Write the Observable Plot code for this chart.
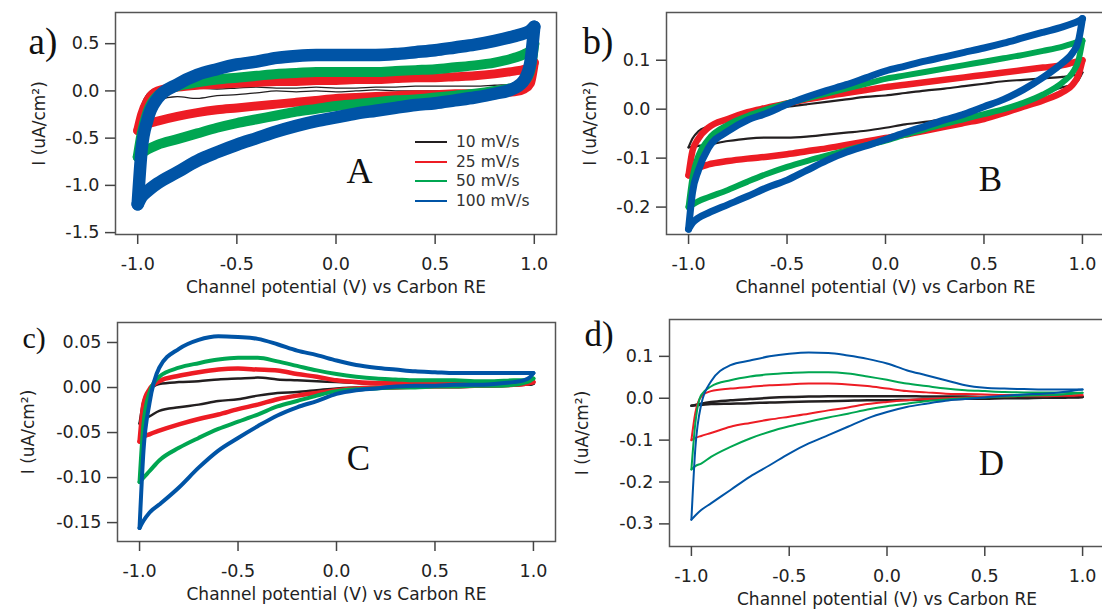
<!DOCTYPE html>
<html><head><meta charset="utf-8">
<script src="https://cdn.jsdelivr.net/npm/d3@7"></script>
<script src="https://cdn.jsdelivr.net/npm/@observablehq/plot@0.6"></script>
<style>
html,body{margin:0;padding:0;background:#fff;overflow:hidden;}
#wrap{position:relative;width:1102px;height:609px;overflow:hidden;background:#fff;}
#legend{position:absolute;left:415px;top:132.5px;font-family:"DejaVu Sans",sans-serif;font-size:15.5px;color:#333;}
#legend .row{height:19.6px;display:flex;align-items:center;white-space:nowrap;}
#legend .sw{width:32px;height:2px;margin-right:9px;}
</style></head><body><div id="wrap"></div>
<script>
// Potential grid (V vs Carbon RE)
const E = [-1, -0.98, -0.95, -0.9, -0.8, -0.7, -0.6, -0.5, -0.4, -0.3, -0.2, -0.1, 0, 0.1, 0.2, 0.3, 0.4, 0.5, 0.6, 0.7, 0.8, 0.9, 0.95, 0.98, 1];
const seriesNames = ["10 mV/s", "25 mV/s", "50 mV/s", "100 mV/s"];
const seriesColors = ["#231f20", "#ed1c24", "#00a651", "#0054a6"];
const xTicks = [-1, -0.5, 0, 0.5, 1];
const xTitle = "Channel potential (V) vs Carbon RE";
const yTitle = "I (uA/cm\u00b2)";
const panelLabels = ["a)", "b)", "c)", "d)"];
const panelLetters = ["A", "B", "C", "D"];
const aYTicks = [-1.5, -1, -0.5, 0, 0.5];
const bYTicks = [-0.2, -0.1, 0, 0.1];
const cYTicks = [-0.15, -0.1, -0.05, 0, 0.05];
const dYTicks = [-0.3, -0.2, -0.1, 0, 0.1];

// Panel A (up = anodic sweep, dn = cathodic sweep)
const aBlackUp = [-0.30,-0.15,-0.03,0.03,0.04,0.03,0.02,0.03,0.04,0.03,0.03,0.04,0.03,0.03,0.04,0.04,0.05,0.05,0.05,0.05,0.06,0.07,0.08,0.10,0.15];
const aBlackDn = [-0.30,-0.25,-0.18,-0.10,-0.06,-0.08,-0.05,-0.04,-0.02,0.00,-0.01,0.00,-0.01,0.00,0.01,0.00,0.00,0.00,0.00,0.00,0.00,0.00,0.01,0.03,0.15];
const aRedUp = [-0.42,-0.25,-0.10,0.00,0.04,0.06,0.07,0.08,0.09,0.10,0.10,0.11,0.11,0.12,0.12,0.13,0.14,0.14,0.15,0.16,0.18,0.21,0.23,0.26,0.30];
const aRedDn = [-0.42,-0.38,-0.35,-0.32,-0.27,-0.23,-0.20,-0.18,-0.16,-0.14,-0.12,-0.10,-0.08,-0.07,-0.06,-0.05,-0.04,-0.04,-0.03,-0.03,-0.02,-0.01,0.02,0.08,0.30];
const aGreenUp = [-0.70,-0.45,-0.22,-0.05,0.05,0.09,0.12,0.14,0.16,0.18,0.19,0.20,0.20,0.20,0.20,0.21,0.22,0.23,0.25,0.27,0.30,0.35,0.39,0.43,0.50];
const aGreenDn = [-0.70,-0.66,-0.62,-0.57,-0.51,-0.45,-0.39,-0.34,-0.30,-0.26,-0.22,-0.19,-0.16,-0.14,-0.12,-0.10,-0.09,-0.07,-0.05,-0.03,0.00,0.04,0.10,0.22,0.50];
const aBlueUp = [-1.20,-0.62,-0.30,-0.08,0.07,0.17,0.23,0.28,0.31,0.35,0.37,0.38,0.38,0.38,0.38,0.39,0.41,0.43,0.46,0.49,0.53,0.58,0.61,0.64,0.68];
const aBlueDn = [-1.20,-1.12,-1.06,-0.98,-0.86,-0.74,-0.65,-0.57,-0.50,-0.43,-0.37,-0.32,-0.28,-0.24,-0.21,-0.18,-0.15,-0.13,-0.10,-0.07,-0.03,0.03,0.12,0.30,0.68];

// Panel B
const bBlackUp = [-0.078,-0.06,-0.045,-0.035,-0.02,-0.005,0.003,0.005,0.01,0.015,0.02,0.025,0.028,0.033,0.038,0.042,0.047,0.052,0.057,0.06,0.063,0.066,0.069,0.072,0.075];
const bBlackDn = [-0.078,-0.077,-0.075,-0.072,-0.065,-0.06,-0.058,-0.058,-0.056,-0.052,-0.048,-0.044,-0.038,-0.031,-0.026,-0.02,-0.014,-0.008,0.0,0.01,0.03,0.045,0.05,0.06,0.075];
const bRedUp = [-0.135,-0.085,-0.06,-0.038,-0.02,-0.006,0.003,0.012,0.02,0.027,0.033,0.039,0.045,0.05,0.055,0.06,0.065,0.07,0.075,0.08,0.085,0.09,0.095,0.098,0.1];
const bRedDn = [-0.135,-0.127,-0.12,-0.113,-0.106,-0.101,-0.097,-0.092,-0.086,-0.08,-0.073,-0.066,-0.059,-0.052,-0.044,-0.036,-0.028,-0.02,-0.008,0.005,0.018,0.035,0.05,0.07,0.1];
const bGreenUp = [-0.2,-0.14,-0.095,-0.062,-0.032,-0.014,0.0,0.012,0.022,0.032,0.042,0.052,0.062,0.069,0.076,0.083,0.09,0.097,0.104,0.111,0.119,0.128,0.134,0.138,0.14];
const bGreenDn = [-0.2,-0.195,-0.188,-0.18,-0.165,-0.148,-0.132,-0.118,-0.106,-0.095,-0.084,-0.074,-0.064,-0.052,-0.041,-0.03,-0.02,-0.01,0.0,0.013,0.03,0.055,0.075,0.1,0.14];
const bBlueUp = [-0.245,-0.17,-0.125,-0.08,-0.045,-0.022,-0.008,0.01,0.025,0.038,0.05,0.064,0.078,0.088,0.098,0.107,0.116,0.125,0.135,0.146,0.157,0.168,0.175,0.18,0.185];
const bBlueDn = [-0.245,-0.232,-0.222,-0.212,-0.195,-0.178,-0.16,-0.145,-0.125,-0.105,-0.088,-0.075,-0.062,-0.048,-0.035,-0.022,-0.01,0.005,0.02,0.04,0.065,0.095,0.115,0.14,0.185];

// Panel C
const cBlackUp = [-0.04,-0.015,-0.003,0.004,0.006,0.007,0.009,0.010,0.011,0.009,0.008,0.007,0.006,0.005,0.004,0.004,0.003,0.003,0.003,0.003,0.003,0.003,0.003,0.003,0.004];
const cBlackDn = [-0.04,-0.035,-0.032,-0.026,-0.022,-0.019,-0.015,-0.013,-0.009,-0.006,-0.005,-0.003,-0.001,0.0,0.0,0.001,0.001,0.001,0.001,0.002,0.002,0.002,0.003,0.003,0.004];
const cRedUp = [-0.06,-0.018,-0.002,0.007,0.013,0.017,0.02,0.021,0.02,0.019,0.015,0.012,0.008,0.006,0.005,0.005,0.004,0.004,0.004,0.004,0.004,0.004,0.004,0.005,0.006];
const cRedDn = [-0.06,-0.055,-0.052,-0.048,-0.041,-0.035,-0.03,-0.024,-0.019,-0.013,-0.009,-0.006,-0.003,-0.001,0.0,0.0,0.001,0.001,0.001,0.002,0.002,0.003,0.004,0.005,0.006];
const cGreenUp = [-0.105,-0.04,-0.006,0.012,0.022,0.027,0.031,0.033,0.033,0.029,0.024,0.019,0.015,0.012,0.010,0.009,0.008,0.008,0.008,0.007,0.007,0.008,0.008,0.009,0.01];
const cGreenDn = [-0.105,-0.1,-0.093,-0.081,-0.067,-0.056,-0.046,-0.038,-0.03,-0.021,-0.015,-0.009,-0.004,-0.002,-0.001,0.0,0.0,0.001,0.001,0.002,0.002,0.003,0.005,0.007,0.01];
const cBlueUp = [-0.156,-0.07,-0.018,0.022,0.043,0.053,0.057,0.056,0.054,0.048,0.041,0.036,0.03,0.025,0.022,0.02,0.018,0.017,0.016,0.016,0.016,0.016,0.016,0.016,0.016];
const cBlueDn = [-0.156,-0.148,-0.139,-0.13,-0.111,-0.089,-0.07,-0.056,-0.043,-0.031,-0.022,-0.015,-0.007,-0.003,-0.001,0.001,0.002,0.002,0.003,0.003,0.004,0.006,0.008,0.011,0.016];

// Panel D
const dBlackUp = [-0.018,-0.016,-0.013,-0.009,-0.005,-0.002,0.001,0.003,0.004,0.005,0.005,0.005,0.005,0.005,0.004,0.004,0.004,0.003,0.003,0.003,0.003,0.003,0.003,0.003,0.003];
const dBlackDn = [-0.018,-0.017,-0.016,-0.014,-0.013,-0.012,-0.01,-0.009,-0.008,-0.007,-0.006,-0.005,-0.005,-0.004,-0.003,-0.002,-0.001,-0.001,0.0,0.0,0.001,0.001,0.002,0.002,0.003];
const dRedUp = [-0.1,-0.035,0.004,0.017,0.023,0.027,0.031,0.033,0.035,0.035,0.033,0.029,0.023,0.017,0.014,0.011,0.01,0.009,0.008,0.008,0.007,0.007,0.007,0.007,0.007];
const dRedDn = [-0.1,-0.095,-0.09,-0.083,-0.068,-0.059,-0.051,-0.044,-0.037,-0.029,-0.022,-0.014,-0.009,-0.005,-0.002,0.0,0.002,0.003,0.004,0.005,0.005,0.006,0.006,0.007,0.007];
const dGreenUp = [-0.17,-0.06,0.008,0.028,0.043,0.052,0.057,0.06,0.062,0.062,0.059,0.052,0.044,0.035,0.029,0.023,0.019,0.017,0.015,0.014,0.014,0.013,0.013,0.013,0.013];
const dGreenDn = [-0.17,-0.162,-0.156,-0.14,-0.116,-0.096,-0.08,-0.067,-0.056,-0.046,-0.037,-0.027,-0.019,-0.013,-0.007,-0.003,0.0,0.002,0.004,0.006,0.007,0.009,0.011,0.012,0.013];
const dBlueUp = [-0.29,-0.12,-0.015,0.04,0.079,0.09,0.1,0.106,0.109,0.108,0.102,0.094,0.083,0.067,0.055,0.043,0.031,0.025,0.023,0.022,0.021,0.021,0.021,0.021,0.021];
const dBlueDn = [-0.29,-0.28,-0.267,-0.251,-0.219,-0.187,-0.16,-0.132,-0.108,-0.088,-0.068,-0.048,-0.033,-0.021,-0.013,-0.006,-0.002,0.002,0.006,0.009,0.011,0.015,0.018,0.02,0.021];

const fmt = (n) => (d) => d.toFixed(n);

const panels = [
  {left: 0, top: 0, width: 560, height: 300, mL: 115, mR: 4, mT: 12, mB: 66,
   yDomain: [-1.52, 0.83], yTicks: aYTicks, yFmt: 1, yLabelDx: -76,
   labelFont: 37, labelDx: -87, labelDy: 41, bigFont: 36, bigDx: 244, bigDy: 170,
   widths: [1.3, 9, 10, 12.5],
   series: [[aBlackUp, aBlackDn], [aRedUp, aRedDn], [aGreenUp, aGreenDn], [aBlueUp, aBlueDn]]},
  {left: 551, top: 0, width: 556, height: 300, mL: 115, mR: 3, mT: 12, mB: 66,
   yDomain: [-0.256, 0.1975], yTicks: bYTicks, yFmt: 1, yLabelDx: -76,
   labelFont: 37, labelDx: -84, labelDy: 41, bigFont: 35, bigDx: 324, bigDy: 178,
   widths: [2.2, 6.5, 6, 7],
   series: [[bBlackUp, bBlackDn], [bRedUp, bRedDn], [bGreenUp, bGreenDn], [bBlueUp, bBlueDn]]},
  {left: 0, top: 300, width: 560, height: 309, mL: 117, mR: 5, mT: 22, mB: 68,
   yDomain: [-0.171, 0.0722], yTicks: cYTicks, yFmt: 2, yLabelDx: -89,
   labelFont: 30, labelDx: -95, labelDy: 25, bigFont: 35, bigDx: 241, bigDy: 147,
   widths: [2.5, 4.5, 4, 4],
   series: [[cBlackUp, cBlackDn], [cRedUp, cRedDn], [cGreenUp, cGreenDn], [cBlueUp, cBlueDn]]},
  {left: 551, top: 300, width: 556, height: 309, mL: 118, mR: 3, mT: 19, mB: 63,
   yDomain: [-0.354, 0.188], yTicks: dYTicks, yFmt: 1, yLabelDx: -87,
   labelFont: 35, labelDx: -85, labelDy: 26, bigFont: 35, bigDx: 322, bigDy: 155,
   widths: [2.5, 2, 2, 2],
   series: [[dBlackUp, dBlackDn], [dRedUp, dRedDn], [dGreenUp, dGreenDn], [dBlueUp, dBlueDn]]}
];

const wrap = document.getElementById("wrap");
panels.forEach((p, idx) => {
  const marks = [];
  p.series.forEach(([up, dn], k) => {
    for (const arr of [up, dn]) {
      const rows = E.map((e, i) => ({E: e, I: arr[i], series: seriesNames[k]}));
      marks.push(Plot.line(rows, {x: "E", y: "I", stroke: seriesColors[k], strokeWidth: p.widths[k],
        curve: "monotone-x", strokeLinejoin: "round"}));
    }
  });
  marks.push(Plot.frame({stroke: "#555", strokeWidth: 1.5}));
  marks.push(Plot.axisX({ticks: xTicks, tickFormat: fmt(1), tickSize: 10, tickPadding: 13, label: null,
    stroke: "#444", strokeWidth: 1.5, fill: "#222", fontSize: 17.5}));
  marks.push(Plot.axisY({ticks: p.yTicks, tickFormat: fmt(p.yFmt), tickSize: 10, tickPadding: 6, label: null,
    stroke: "#444", strokeWidth: 1.5, fill: "#222", fontSize: 17.5}));
  marks.push(Plot.text([xTitle], {frameAnchor: "bottom", dy: 53, fill: "#222", fontSize: 17, textAnchor: "middle", lineAnchor: "middle"}));
  marks.push(Plot.text([yTitle], {frameAnchor: "left", rotate: -90, dx: p.yLabelDx, fill: "#222", fontSize: 17, textAnchor: "middle", lineAnchor: "middle"}));
  marks.push(Plot.text([panelLabels[idx]], {frameAnchor: "top-left", dx: p.labelDx, dy: p.labelDy, textAnchor: "start",
    lineAnchor: "bottom", fontFamily: "Liberation Serif", fontSize: p.labelFont, fill: "#111"}));
  marks.push(Plot.text([panelLetters[idx]], {frameAnchor: "top-left", dx: p.bigDx, dy: p.bigDy, textAnchor: "middle",
    lineAnchor: "bottom", fontFamily: "Liberation Serif", fontSize: p.bigFont, fill: "#111"}));
  const svg = Plot.plot({
    width: p.width, height: p.height,
    marginLeft: p.mL, marginRight: p.mR, marginTop: p.mT, marginBottom: p.mB,
    x: {domain: [-1.112, 1.112]},
    y: {domain: p.yDomain},
    style: {fontFamily: "DejaVu Sans, sans-serif", fontSize: "17px", background: "transparent", overflow: "visible", color: "#222"},
    marks
  });
  svg.style.position = "absolute";
  svg.style.left = p.left + "px";
  svg.style.top = p.top + "px";
  wrap.appendChild(svg);
});

// legend (panel A)
const legend = document.createElement("div");
legend.id = "legend";
seriesNames.forEach((name, k) => {
  const row = document.createElement("div");
  row.className = "row";
  const sw = document.createElement("span");
  sw.className = "sw";
  sw.style.background = seriesColors[k];
  const tx = document.createElement("span");
  tx.textContent = name;
  row.appendChild(sw); row.appendChild(tx);
  legend.appendChild(row);
});
wrap.appendChild(legend);
</script>
</body></html>
